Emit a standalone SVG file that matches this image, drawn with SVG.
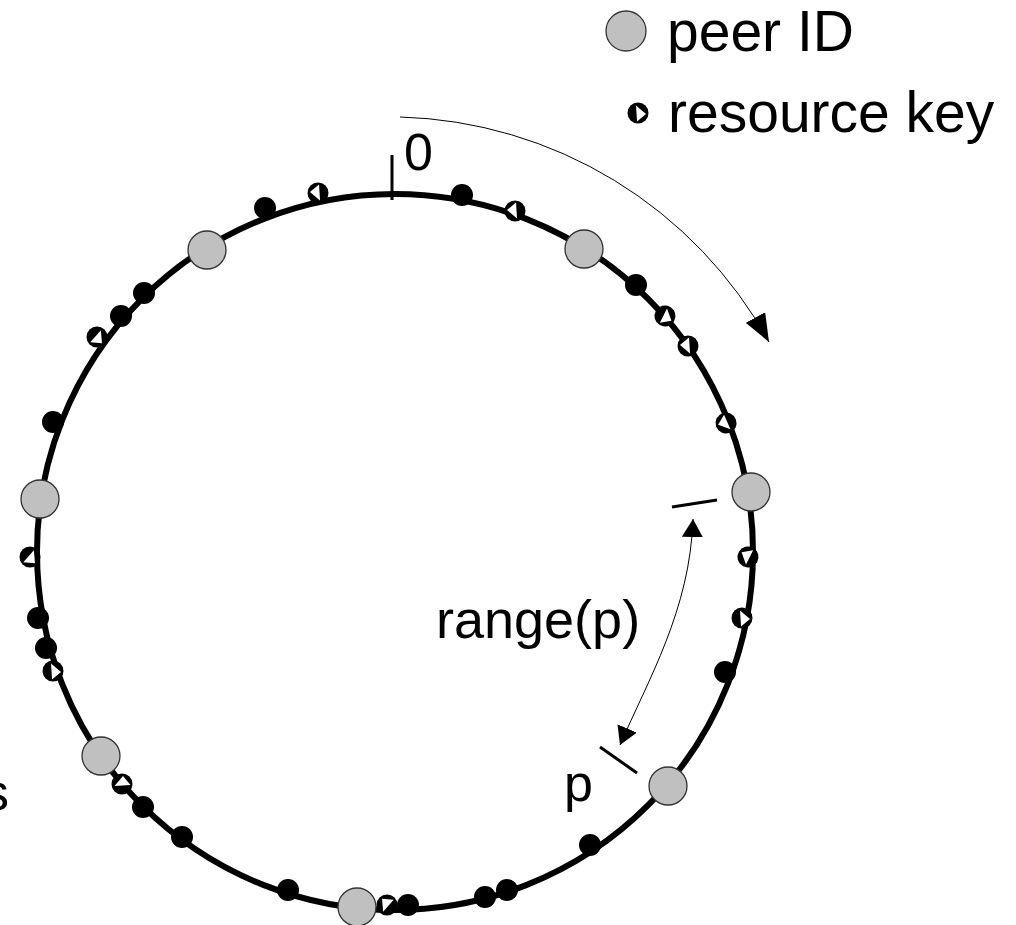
<svg xmlns="http://www.w3.org/2000/svg" xmlns:xlink="http://www.w3.org/1999/xlink" width="1016" height="925" viewBox="0 0 1016 925">
<style>
.lbl{font-family:"Liberation Sans",Arial,sans-serif;font-size:52px;fill:#000}
.leg{font-family:"Liberation Sans",Arial,sans-serif;font-size:57px;fill:#000}
.peer{fill:#c0c0c0;stroke:#333;stroke-width:1.3}
.dot{fill:#000}
.ring{fill:none;stroke:#000;stroke-width:6}
.tick{stroke:#000;stroke-width:3;fill:none}
.conn{fill:none;stroke:#000;stroke-width:1}
</style>
<defs>
<marker id="ah" markerUnits="userSpaceOnUse" viewBox="0 0 28 22" markerWidth="28" markerHeight="22" refX="28" refY="11" orient="auto"><path d="M0,0 L28,11 L0,22 Z" fill="#000"/></marker>
<marker id="ahs" markerUnits="userSpaceOnUse" viewBox="0 0 18 21" markerWidth="18" markerHeight="21" refX="18" refY="10.5" orient="auto-start-reverse"><path d="M0,0 L18,10.5 L0,21 Z" fill="#000"/></marker>
<g id="rk"><circle r="10.5" fill="#000"/><path d="M-2,-7.5 L8,1 L-1,8.5 Z" fill="#fff"/></g>
</defs>
<rect width="1016" height="925" fill="#fff"/>
<g id="legend">
<circle class="peer" cx="626" cy="31" r="20"/>
<text class="leg" x="667" y="51">peer ID</text>
<use xlink:href="#rk" transform="translate(638,113)"/>
<text class="leg" x="668" y="132">resource key</text>
</g>
<g id="ring">
<circle class="ring" cx="395" cy="552" r="358"/>
<line class="tick" x1="392" y1="155" x2="392" y2="200"/>
<line class="tick" x1="672" y1="507" x2="717" y2="500"/>
<line class="tick" x1="600" y1="747" x2="637" y2="773"/>
</g>
<g id="connectors">
<path class="conn" d="M400,117 A435,435 0 0 1 769,342" marker-end="url(#ah)"/>
<path class="conn" d="M693,519 C690,610 648,680 620,745" marker-start="url(#ahs)" marker-end="url(#ahs)"/>
</g>
<g id="labels">
<text class="lbl" x="404" y="170">0</text>
<text class="lbl" x="436" y="638" style="font-size:54px">range(p)</text>
<text class="lbl" x="564" y="801">p</text>
<text class="lbl" x="9" y="810" text-anchor="end">s</text>
</g>
<g id="keys">
<circle class="dot" cx="462" cy="195" r="11"/>
<circle class="dot" cx="636" cy="285" r="11"/>
<circle class="dot" cx="725" cy="672" r="11"/>
<circle class="dot" cx="590" cy="845" r="11"/>
<circle class="dot" cx="507" cy="890" r="11"/>
<circle class="dot" cx="485" cy="897" r="11"/>
<circle class="dot" cx="408" cy="905" r="11"/>
<circle class="dot" cx="288" cy="890" r="11"/>
<circle class="dot" cx="182" cy="837" r="11"/>
<circle class="dot" cx="143" cy="807" r="11"/>
<circle class="dot" cx="46" cy="648" r="11"/>
<circle class="dot" cx="38" cy="618" r="11"/>
<circle class="dot" cx="53" cy="422" r="11"/>
<circle class="dot" cx="121" cy="316" r="11"/>
<circle class="dot" cx="144" cy="293" r="11"/>
<circle class="dot" cx="265" cy="208" r="11"/>
<use xlink:href="#rk" transform="translate(515,211) rotate(180)"/>
<use xlink:href="#rk" transform="translate(665,316) rotate(30)"/>
<use xlink:href="#rk" transform="translate(688,346) rotate(180)"/>
<use xlink:href="#rk" transform="translate(726,423) rotate(160)"/>
<use xlink:href="#rk" transform="translate(748,557) rotate(-150)"/>
<use xlink:href="#rk" transform="translate(742,618) rotate(0)"/>
<use xlink:href="#rk" transform="translate(387,905) rotate(-135)"/>
<use xlink:href="#rk" transform="translate(122,784) rotate(-90)"/>
<use xlink:href="#rk" transform="translate(53,671) rotate(0)"/>
<use xlink:href="#rk" transform="translate(30,557) rotate(45)"/>
<use xlink:href="#rk" transform="translate(97,337) rotate(45)"/>
<use xlink:href="#rk" transform="translate(318,193) rotate(180)"/>
</g>
<g id="peers">
<circle class="peer" cx="207" cy="250" r="19"/>
<circle class="peer" cx="584" cy="249" r="19"/>
<circle class="peer" cx="751" cy="492" r="19"/>
<circle class="peer" cx="40" cy="499" r="19"/>
<circle class="peer" cx="101" cy="756" r="19"/>
<circle class="peer" cx="668" cy="786" r="19"/>
<circle class="peer" cx="357" cy="907" r="19"/>
</g>
</svg>
